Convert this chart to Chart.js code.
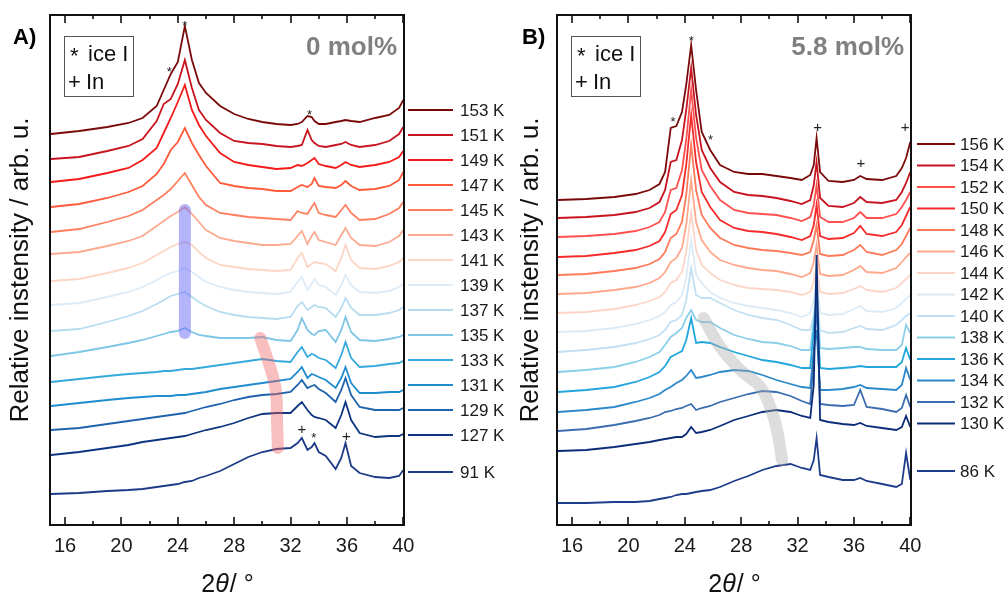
<!DOCTYPE html>
<html>
<head>
<meta charset="utf-8">
<script src="https://cdn.jsdelivr.net/npm/chart.js@4.4.1/dist/chart.umd.min.js"></script>
<style>
  html, body { margin: 0; padding: 0; background: #fff; }
  #wrap { position: relative; width: 1007px; height: 597px; overflow: hidden; }
  canvas { position: absolute; top: 0; }
  #ca { left: 0; }
  #cb { left: 520px; }
</style>
</head>
<body>
<div id="wrap">
  <canvas id="ca" width="520" height="597"></canvas>
  <canvas id="cb" width="487" height="597"></canvas>
</div>
<script>
const FONT = 'Arial, "Liberation Sans", Helvetica, sans-serif';

// 2theta axis
const X_TICKS = [16, 20, 24, 28, 32, 36, 40];
const X_MINOR = [18, 22, 26, 30, 34, 38];

// ---------- panel A : 0 mol% ----------
const xA = [15, 17, 19, 20.5, 21.5, 22.5, 23, 23.5, 24, 24.5, 25, 25.5, 26, 27, 28, 29, 30, 31, 32, 32.5,
            32.8, 33.2, 33.5, 33.7, 34, 34.5, 35.2, 35.6, 35.9, 36.3, 36.9, 38, 39, 39.7, 40];
const labelsA = ['153 K', '151 K', '149 K', '147 K', '145 K', '143 K', '141 K', '139 K', '137 K',
                 '135 K', '133 K', '131 K', '129 K', '127 K', '91 K'];
const colorsA = ['#7a0a0a', '#c8141e', '#f51a1a', '#ff5a3a', '#ff8060', '#fcaa90', '#fdd5c5', '#dcebf7',
                 '#b8dcef', '#7fc6e6', '#35a9dc', '#1f8ccf', '#1f63ad', '#0d3580', '#1c3a85'];
// stacked intensities (arb. u., offset included)
const a153 = [391, 394, 398, 402, 407, 419, 435, 451, 463, 499, 465, 442, 432, 419, 411, 406, 403, 401, 400, 401, 403, 409, 408, 404, 401, 401, 403, 404, 405, 404, 403, 407, 410, 417, 425];
const a151 = [366, 368, 374, 379, 386, 404, 421, 426, 441, 465, 437, 415, 405, 392, 384, 382, 381, 379, 378, 379, 380, 395, 385, 382, 379, 378, 380, 381, 383, 380, 378, 380, 384, 391, 398];
const a149 = [343, 346, 352, 357, 365, 377, 392, 407, 423, 440, 415, 400, 389, 372, 363, 360, 358, 356, 357, 360, 359, 362, 365, 367, 361, 359, 357, 360, 363, 360, 358, 360, 363, 368, 374];
const a147 = [318, 321, 327, 333, 339, 351, 361, 375, 383, 397, 382, 370, 359, 342, 339, 337, 336, 334, 334, 338, 340, 338, 341, 347, 339, 338, 337, 340, 344, 339, 335, 336, 339, 345, 353];
const a145 = [293, 296, 303, 309, 315, 325, 330, 336, 344, 352, 340, 328, 320, 312, 310, 308, 307, 306, 305, 314, 312, 311, 318, 322, 312, 310, 308, 315, 320, 312, 305, 306, 311, 317, 323];
const a143 = [271, 273, 279, 284, 289, 299, 304, 309, 313, 318, 311, 303, 295, 287, 284, 282, 280, 280, 281, 289, 294, 281, 289, 293, 285, 283, 280, 290, 297, 287, 280, 279, 283, 289, 295];
const a141 = [244, 246, 252, 257, 262, 270, 274, 278, 281, 283, 280, 273, 267, 260, 258, 256, 255, 254, 255, 267, 272, 258, 261, 263, 262, 261, 254, 267, 280, 265, 257, 256, 259, 263, 267];
const a139 = [220, 222, 228, 233, 238, 245, 249, 252, 254, 257, 253, 248, 243, 238, 235, 233, 232, 231, 233, 243, 248, 235, 241, 246, 240, 238, 230, 240, 250, 240, 233, 232, 234, 238, 241];
const a137 = [194, 196, 203, 209, 214, 221, 225, 229, 231, 233, 228, 223, 219, 213, 210, 208, 207, 206, 208, 219, 223, 215, 218, 220, 218, 217, 208, 217, 227, 217, 210, 210, 212, 215, 218];
const a135 = [169, 173, 178, 182, 185, 189, 191, 193, 194, 197, 193, 190, 189, 187, 187, 187, 188, 185, 184, 195, 207, 195, 191, 190, 194, 195, 183, 195, 208, 193, 185, 184, 186, 188, 190];
const a133 = [143, 146, 149, 151, 152, 153, 154, 154, 155, 156, 156, 157, 158, 160, 162, 164, 166, 164, 163, 173, 178, 168, 171, 170, 167, 165, 157, 170, 183, 167, 158, 159, 161, 162, 164];
const a131 = [119, 122, 125, 127, 128, 129, 129, 129, 130, 130, 131, 132, 133, 136, 138, 140, 142, 144, 146, 153, 158, 147, 151, 150, 148, 145, 137, 147, 158, 142, 132, 132, 133, 133, 135];
const a129 = [95, 97, 101, 104, 106, 108, 109, 110, 111, 112, 114, 116, 118, 121, 125, 128, 130, 131, 133, 140, 145, 137, 139, 140, 136, 132, 123, 135, 147, 130, 118, 115, 115, 115, 117];
const a127 = [70, 73, 77, 80, 83, 85, 86, 87, 88, 89, 91, 93, 95, 98, 102, 107, 111, 112, 112, 119, 123, 115, 110, 108, 107, 105, 97, 110, 123, 105, 92, 88, 89, 89, 91];
const a91 = [31, 32, 34, 35, 36, 38, 39, 40, 41, 43, 44, 47, 49, 54, 61, 68, 73, 76, 77, 82, 87, 75, 78, 82, 73, 69, 56, 67, 82, 59, 52, 48, 47, 49, 55];
const seriesA = [a153, a151, a149, a147, a145, a143, a141, a139, a137, a135, a133, a131, a129, a127, a91];
// highlight bands
const bandA1x = [24.5, 24.5];
const bandA1y = [315, 192];
const bandA2x = [29.85, 30.5, 30.95, 31.05, 31.1];
const bandA2y = [187, 160, 135, 100, 77];
// peak markers
const markAx = [24.5, 23.4, 33.35, 32.8, 33.65, 35.97];
const markAy = [502, 456, 413, 95, 90, 88];
const markAs = ['*', '*', '*', '+', '*', '+'];

// ---------- panel B : 5.8 mol% ----------
const xB = [15, 17, 19, 20.5, 21.5, 22.2, 22.6, 23.0, 23.4, 23.8, 24.1, 24.45, 24.8, 25.2, 25.8, 26.5, 27.5, 28.5,
            29.5, 30.5, 31.5, 32.3, 32.9, 33.15, 33.35, 33.6, 34.2, 35.2, 36.0, 36.45, 36.9, 38, 39, 39.4, 39.7, 40];
const labelsB = ['156 K', '154 K', '152 K', '150 K', '148 K', '146 K', '144 K', '142 K', '140 K',
                 '138 K', '136 K', '134 K', '132 K', '130 K', '86 K'];
const colorsB = ['#7a0a0a', '#c8141e', '#ff5050', '#f52a2a', '#ff7a5a', '#ffa88c', '#fdd5c8', '#dcebf7',
                 '#c2e0f2', '#8bcfe9', '#22a6dc', '#2b88c9', '#3a6db0', '#0c2d78', '#1e3c8c'];
const b156 = [325, 326, 328, 331, 335, 341, 353, 397, 399, 413, 440, 480, 435, 393, 375, 360, 353, 351, 351, 349, 347, 345, 350, 360, 387, 353, 344, 343, 345, 349, 346, 345, 349, 357, 367, 383];
const b154 = [307, 308, 310, 313, 317, 323, 335, 363, 365, 385, 415, 457, 410, 375, 357, 343, 333, 330, 329, 327, 324, 321, 325, 340, 363, 327, 319, 318, 322, 328, 323, 322, 325, 333, 342, 353];
const b152 = [288, 289, 291, 294, 298, 303, 313, 335, 337, 355, 385, 435, 387, 355, 339, 325, 315, 312, 311, 310, 307, 304, 308, 320, 340, 308, 303, 303, 307, 313, 307, 307, 311, 318, 325, 333];
const b150 = [268, 269, 272, 275, 279, 284, 293, 311, 315, 330, 360, 410, 363, 333, 318, 305, 297, 294, 293, 291, 288, 285, 289, 300, 320, 289, 286, 287, 292, 299, 291, 289, 293, 300, 309, 318];
const b148 = [250, 251, 254, 257, 261, 266, 273, 287, 291, 303, 330, 380, 335, 310, 297, 287, 280, 277, 275, 274, 272, 270, 273, 285, 300, 271, 269, 270, 275, 280, 273, 270, 275, 281, 289, 297];
const b146 = [231, 232, 235, 238, 242, 247, 253, 263, 267, 277, 300, 345, 303, 285, 273, 265, 260, 257, 255, 254, 251, 248, 252, 263, 280, 251, 249, 250, 255, 259, 253, 252, 257, 263, 268, 272];
const b144 = [212, 213, 216, 220, 224, 228, 233, 242, 245, 253, 273, 312, 275, 260, 252, 245, 240, 237, 236, 235, 233, 230, 233, 243, 260, 233, 231, 232, 236, 239, 235, 233, 237, 242, 246, 250];
const b142 = [193, 194, 197, 201, 205, 209, 213, 220, 223, 230, 247, 285, 250, 242, 233, 227, 222, 219, 217, 215, 212, 208, 212, 225, 245, 212, 210, 211, 216, 219, 214, 213, 217, 222, 226, 230];
const b140 = [173, 175, 178, 182, 186, 190, 195, 203, 205, 210, 225, 257, 230, 227, 227, 222, 215, 210, 207, 205, 200, 195, 195, 210, 233, 195, 192, 193, 197, 199, 196, 195, 200, 205, 209, 212];
const b138 = [153, 155, 158, 163, 168, 173, 180, 188, 192, 197, 207, 215, 205, 203, 203, 197, 190, 186, 183, 182, 179, 175, 175, 205, 235, 177, 176, 177, 178, 178, 176, 175, 175, 180, 200, 192];
const b136 = [133, 135, 138, 143, 148, 153, 159, 168, 171, 174, 185, 207, 182, 183, 182, 178, 173, 169, 165, 163, 160, 157, 157, 195, 225, 157, 156, 157, 158, 159, 158, 158, 158, 163, 177, 165];
const b134 = [113, 115, 118, 123, 127, 131, 135, 138, 142, 145, 149, 155, 147, 148, 150, 153, 155, 154, 150, 145, 141, 138, 137, 175, 195, 135, 135, 136, 138, 140, 137, 136, 135, 140, 157, 145];
const b132 = [94, 96, 100, 104, 107, 110, 113, 114, 116, 117, 119, 121, 115, 117, 119, 123, 127, 131, 134, 133, 129, 124, 121, 165, 225, 121, 120, 119, 120, 135, 118, 116, 113, 117, 130, 118];
const b130 = [74, 75, 78, 81, 83, 85, 86, 87, 88, 88, 91, 98, 92, 93, 95, 99, 105, 109, 113, 115, 113, 109, 107, 140, 270, 105, 103, 101, 100, 102, 99, 97, 95, 98, 109, 98];
const b86 = [22, 22, 23, 23, 24, 26, 27, 28, 30, 31, 31, 32, 33, 34, 35, 38, 44, 49, 55, 59, 61, 57, 55, 65, 87, 50, 48, 45, 45, 47, 44, 41, 38, 41, 72, 45];
const seriesB = [b156, b154, b152, b150, b148, b146, b144, b142, b140, b138, b136, b134, b132, b130, b86];
const bandBx = [25.33, 26.52, 27.94, 29.35, 30.06, 30.54, 30.9];
const bandBy = [207, 178, 155, 138, 118, 95, 65];
const markBx = [24.46, 23.16, 25.83, 33.42, 36.5, 39.64];
const markBy = [487, 406, 388, 397, 361, 397];
const markBs = ['*', '*', '*', '+', '+', '+'];

function drawXTitle(ctx, cx, y) {
  const parts = [['2', '25px ' + FONT], ['\u03b8', 'italic 25px ' + FONT], ['/ \u00b0', '25px ' + FONT]];
  let w = 0;
  parts.forEach(p => { ctx.font = p[1]; w += ctx.measureText(p[0]).width; });
  let x = cx - w / 2;
  ctx.textAlign = 'left';
  ctx.textBaseline = 'alphabetic';
  parts.forEach(p => { ctx.font = p[1]; ctx.fillText(p[0], x, y); x += ctx.measureText(p[0]).width + (p[0] === '\u03b8' ? 1 : 0); });
}

function decor(p) {
  return {
    id: 'decor',
    afterDatasetsDraw(chart) {
      const { ctx, chartArea: a, scales: { x, y } } = chart;
      ctx.save();
      ctx.fillStyle = '#222';
      ctx.textAlign = 'center';
      ctx.textBaseline = 'middle';
      p.markX.forEach((mx, i) => {
        const s = p.markS[i];
        ctx.font = (s === '+' ? '15px ' : '13px ') + FONT;
        ctx.fillText(s, x.getPixelForValue(mx), y.getPixelForValue(p.markY[i]) + (s === '*' ? 3 : 0));
      });
      // frame + inward ticks
      ctx.strokeStyle = '#111';
      ctx.lineWidth = 2;
      ctx.strokeRect(a.left, a.top, a.right - a.left, a.bottom - a.top);
      ctx.lineWidth = 1.6;
      const tick = (v, len) => {
        const px = Math.round(x.getPixelForValue(v));
        ctx.beginPath();
        ctx.moveTo(px, a.bottom); ctx.lineTo(px, a.bottom - len);
        ctx.moveTo(px, a.top); ctx.lineTo(px, a.top + len);
        ctx.stroke();
      };
      X_TICKS.forEach(v => tick(v, 8));
      X_MINOR.forEach(v => tick(v, 4));
      ctx.restore();
    },
    afterDraw(chart) {
      const { ctx, chartArea: a } = chart;
      ctx.save();
      // temperature legend
      p.labels.forEach((t, i) => {
        const ly = i < p.labels.length - 1 ? p.legY0 + i * p.legStep : p.legLast;
        ctx.strokeStyle = p.colors[i];
        ctx.lineWidth = 1.8;
        ctx.beginPath(); ctx.moveTo(p.legX1, ly); ctx.lineTo(p.legX2, ly); ctx.stroke();
        ctx.fillStyle = '#1a1a1a';
        ctx.font = '17px ' + FONT;
        ctx.textAlign = 'left';
        ctx.textBaseline = 'middle';
        ctx.fillText(t, p.legTx, ly + 1);
      });
      // phase key box
      ctx.strokeStyle = '#555';
      ctx.lineWidth = 1;
      ctx.strokeRect(p.boxX + 0.5, 36.5, 69, 60);
      ctx.fillStyle = '#111';
      ctx.textBaseline = 'alphabetic';
      ctx.textAlign = 'left';
      ctx.font = '22px ' + FONT;
      ctx.fillText('*', p.boxX + 6, 63);
      ctx.fillText('ice I', p.boxX + 24, 61);
      ctx.fillText('+', p.boxX + 4, 89);
      ctx.fillText('In', p.boxX + 22, 89);
      // composition
      ctx.fillStyle = '#808080';
      ctx.font = 'bold 26px ' + FONT;
      ctx.textAlign = 'right';
      ctx.fillText(p.comp, a.right - 7, 55);
      // panel letter
      ctx.fillStyle = '#000';
      ctx.font = 'bold 22px ' + FONT;
      ctx.textAlign = 'left';
      ctx.fillText(p.letter, p.letterX, 44);
      // axis titles
      ctx.fillStyle = '#111';
      drawXTitle(ctx, (a.left + a.right) / 2, 592);
      ctx.translate(p.yTitleX, (a.top + a.bottom) / 2);
      ctx.rotate(-Math.PI / 2);
      ctx.font = '26px ' + FONT;
      ctx.textAlign = 'center';
      ctx.textBaseline = 'middle';
      ctx.fillText('Relative instensity / arb. u.', 0, 0);
      ctx.restore();
    }
  };
}

function makeChart(id, xs, series, colors, bands, padL, padR, p) {
  const datasets = [];
  bands.forEach(b => datasets.push({
    data: b.x.map((v, i) => ({ x: v, y: b.y[i] })),
    borderColor: b.color, borderWidth: 12, borderCapStyle: 'round', borderJoinStyle: 'round',
    tension: 0.4, pointRadius: 0
  }));
  for (let i = series.length - 1; i >= 0; i--) {
    datasets.push({
      data: xs.map((v, j) => ({ x: v, y: series[i][j] })),
      borderColor: colors[i], borderWidth: 1.8, pointRadius: 0, tension: 0
    });
  }
  return new Chart(document.getElementById(id), {
    type: 'line',
    data: { datasets },
    options: {
      responsive: false,
      animation: false,
      devicePixelRatio: 1,
      layout: { padding: { left: padL, right: padR, top: 15, bottom: 0 } },
      plugins: { legend: { display: false }, tooltip: { enabled: false } },
      scales: {
        x: {
          type: 'linear', min: 14.93, max: 40.05,
          grid: { display: false, drawTicks: false },
          border: { display: false },
          afterBuildTicks: s => { s.ticks = X_TICKS.map(v => ({ value: v })); },
          afterFit: s => { s.height = 72; s.paddingLeft = 0; s.paddingRight = 0; },
          ticks: { font: { size: 20, family: FONT }, color: '#1a1a1a', padding: 9, maxRotation: 0, autoSkip: false }
        },
        y: { display: false, min: 0, max: 510 }
      }
    },
    plugins: [decor(p)]
  });
}

makeChart('ca', xA, seriesA, colorsA, [
  { x: bandA1x, y: bandA1y, color: 'rgba(105, 105, 245, 0.5)' },
  { x: bandA2x, y: bandA2y, color: 'rgba(240, 100, 100, 0.42)' }
], 50, 116, {
  labels: labelsA, colors: colorsA, legY0: 110, legStep: 25, legLast: 472,
  legX1: 408, legX2: 453, legTx: 460, boxX: 64, comp: '0 mol%', letter: 'A)', letterX: 13, yTitleX: 21,
  markX: markAx, markY: markAy, markS: markAs
});

makeChart('cb', xB, seriesB, colorsB, [
  { x: bandBx, y: bandBy, color: 'rgba(175, 175, 175, 0.42)' }
], 37, 96, {
  labels: labelsB, colors: colorsB, legY0: 144, legStep: 21.5, legLast: 471,
  legX1: 397, legX2: 435, legTx: 440, boxX: 51, comp: '5.8 mol%', letter: 'B)', letterX: 2, yTitleX: 11,
  markX: markBx, markY: markBy, markS: markBs
});
</script>
</body>
</html>
